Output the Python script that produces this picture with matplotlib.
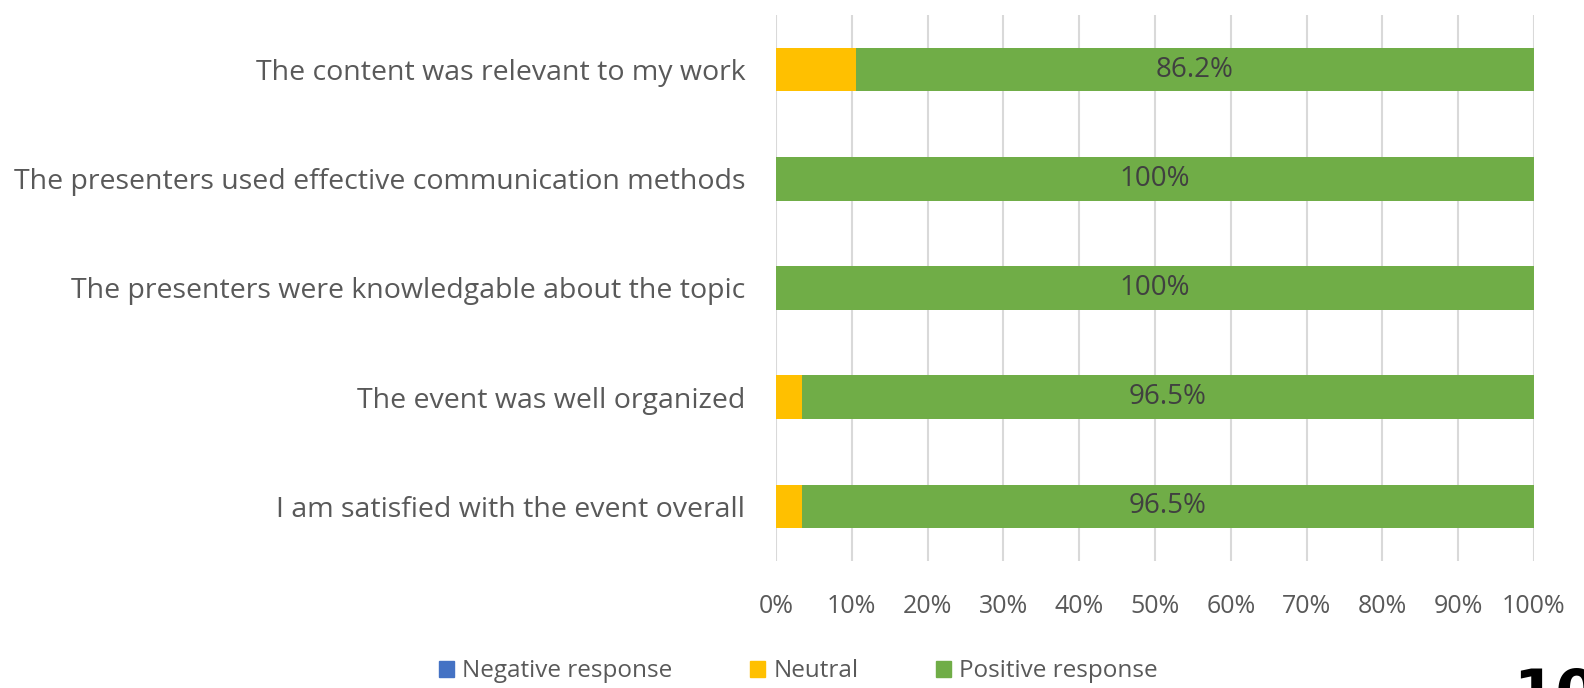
import matplotlib.pyplot as plt
from matplotlib.patches import Patch

# survey statements, bottom to top
statements = ["I am satisfied with the event overall",
              "The event was well organized",
              "The presenters were knowledgable about the topic",
              "The presenters used effective communication methods",
              "The content was relevant to my work"]
negative = [0, 0, 0, 0, 0]
neutral = [3.4, 3.4, 0, 0, 10.5]
positive = [96.6, 96.6, 100, 100, 89.5]
bar_labels = ["96.5%", "96.5%", "100%", "100%", "86.2%"]
xticks = [0, 10, 20, 30, 40, 50, 60, 70, 80, 90, 100]

c_neg = "#4472C4"
c_neu = "#FFC000"
c_pos = "#70AD47"
txt = "#595959"

plt.rcParams['font.family'] = ['Open Sans', 'DejaVu Sans']

fig = plt.figure(figsize=(15.84, 6.88), dpi=100)
ax = fig.add_axes([0.4899, 0.1846, 0.4785, 0.7936])

y = range(len(statements))
h = 0.4
ax.barh(y, negative, height=h, color=c_neg)
ax.barh(y, neutral, left=negative, height=h, color=c_neu)
left_pos = [a + b for a, b in zip(negative, neutral)]
bars = ax.barh(y, positive, left=left_pos, height=h, color=c_pos)
ax.bar_label(bars, labels=bar_labels, label_type='center',
             fontsize=20, color="#404040")

ax.set_xlim(0, 100)
ax.set_ylim(-0.5, 4.5)
ax.set_xticks(xticks)
ax.set_xticklabels([f"{v}%" for v in xticks])
ax.set_yticks(list(y))
ax.set_yticklabels(statements)
ax.tick_params(axis='both', length=0, labelcolor=txt)
ax.tick_params(axis='x', pad=24, labelsize=18)
ax.tick_params(axis='y', pad=22, labelsize=20.5)
ax.grid(axis='x', color="#d9d9d9", linewidth=1.5)
ax.set_axisbelow(True)
for s in ax.spines.values():
    s.set_visible(False)

handles = [Patch(color=c_neg, label="Negative response"),
           Patch(color=c_neu, label="Neutral"),
           Patch(color=c_pos, label="Positive response")]
fig.legend(handles=handles, loc='center', bbox_to_anchor=(0.504, 0.024),
           ncol=3, frameon=False, fontsize=17.5, labelcolor=txt,
           handlelength=0.6, handleheight=0.6, handletextpad=0.35,
           columnspacing=3.2)

# page number cut off at the edge
fig.text(0.955, 0.03, "10", fontsize=44, fontweight='bold',
         va='top', ha='left', family='DejaVu Sans')

fig.savefig("out.png", dpi=100)
